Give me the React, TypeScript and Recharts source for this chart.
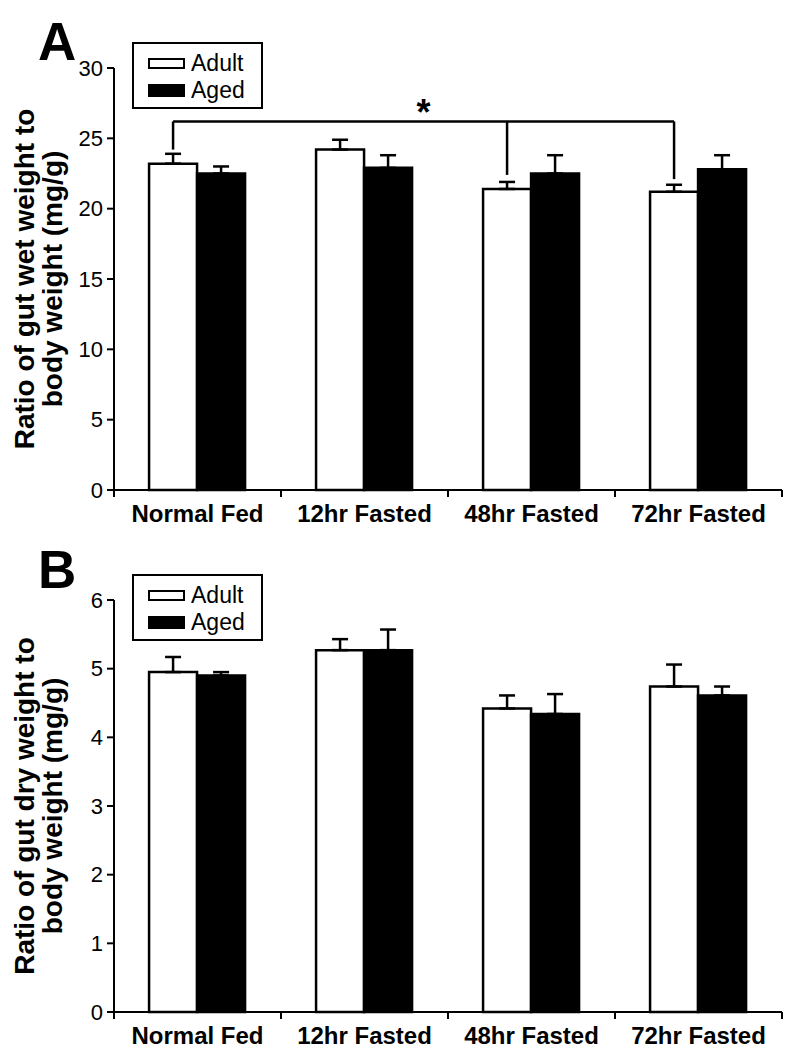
import React from "react"
import { BarChart, Bar, XAxis, YAxis, ErrorBar, Legend, Rectangle } from "recharts"

const categories = ["Normal Fed", "12hr Fasted", "48hr Fasted", "72hr Fasted"]
const seriesNames = ["Adult", "Aged"]
const seriesFills = ["#fff", "#000"]

// panel A: gut wet weight / body weight (mg/g)
const wetAdult = [23.2, 24.2, 21.4, 21.2]
const wetAdultErr = [0.7, 0.7, 0.5, 0.5]
const wetAged = [22.5, 22.9, 22.5, 22.8]
const wetAgedErr = [0.5, 0.9, 1.3, 1.0]
const wetTicks = [0, 5, 10, 15, 20, 25, 30]

// panel B: gut dry weight / body weight (mg/g)
const dryAdult = [4.95, 5.27, 4.42, 4.74]
const dryAdultErr = [0.22, 0.16, 0.19, 0.32]
const dryAged = [4.9, 5.27, 4.34, 4.61]
const dryAgedErr = [0.05, 0.3, 0.29, 0.13]
const dryTicks = [0, 1, 2, 3, 4, 5, 6]

// significance bracket over the adult bars in panel A
const bracketTop = 26.2
const bracketEnds: (number | null)[] = [24.2, null, 22.4, 22.1]
const bracketLabel = "*"

const FONT = '"Liberation Sans", Arial, sans-serif'
const W = 788
const LEFT = 74
const YAXIS_W = 40
const RIGHT = 6
const STEP = (W - LEFT - YAXIS_W - RIGHT) / categories.length

const build = (adult: number[], adultErr: number[], aged: number[], agedErr: number[]) =>
  categories.map((name, i) => ({
    name,
    adult: adult[i],
    adultErr: adultErr[i],
    aged: aged[i],
    agedErr: agedErr[i],
  }))

const wetData = build(wetAdult, wetAdultErr, wetAged, wetAgedErr)
const dryData = build(dryAdult, dryAdultErr, dryAged, dryAgedErr)

const XTick = (props: any) => {
  const { x, y, payload } = props
  const i = payload.index
  return (
    <g>
      <line x1={x - STEP / 2} x2={x - STEP / 2} y1={y} y2={y + 7} stroke="#000" strokeWidth={2} />
      {i === categories.length - 1 && (
        <line x1={x + STEP / 2} x2={x + STEP / 2} y1={y} y2={y + 7} stroke="#000" strokeWidth={2} />
      )}
      <text x={x} y={y + 32} textAnchor="middle" fontFamily={FONT} fontWeight="bold" fontSize={24} fill="#000">
        {payload.value}
      </text>
    </g>
  )
}

const YLabel = (props: any) => {
  const { viewBox, lines } = props
  const cy = viewBox.y + viewBox.height / 2
  const xs = [viewBox.x - 40, viewBox.x - 12]
  return (
    <g>
      {lines.map((t: string, i: number) => (
        <text
          key={t}
          x={xs[i]}
          y={cy}
          transform={`rotate(-90 ${xs[i]} ${cy})`}
          textAnchor="middle"
          fontFamily={FONT}
          fontWeight="bold"
          fontSize={28}
          fill="#000"
        >
          {t}
        </text>
      ))}
    </g>
  )
}

const LegendBox = () => (
  <div
    style={{
      width: 131,
      height: 67,
      border: "2px solid #000",
      boxSizing: "border-box",
      position: "relative",
      background: "#fff",
      fontFamily: FONT,
      fontSize: 23,
      color: "#000",
    }}
  >
    {seriesNames.map((n, i) => (
      <div
        key={n}
        style={{ position: "absolute", left: 14, top: 6 + i * 27, height: 26, display: "flex", alignItems: "center" }}
      >
        <div
          style={{
            width: 37,
            height: i === 0 ? 11 : 13,
            border: "2px solid #000",
            boxSizing: "border-box",
            background: seriesFills[i],
            marginRight: 6,
          }}
        />
        <span style={{ lineHeight: "26px" }}>{n}</span>
      </div>
    ))}
  </div>
)

const AdultBracketShape = (props: any) => {
  const { x, y, width, height, index, payload } = props
  const cx = x + width / 2
  const toPx = (v: number) => y + height - (v * height) / payload.adult
  const topPx = toPx(bracketTop)
  const end = bracketEnds[index]
  const idx = bracketEnds.map((v, i) => (v != null ? i : -1)).filter((i) => i >= 0)
  const first = idx[0]
  const last = idx[idx.length - 1]
  const span = (last - first) * STEP
  return (
    <g>
      <Rectangle x={x} y={y} width={width} height={height} fill="#fff" stroke="#000" strokeWidth={2.5} />
      {end != null && <line x1={cx} x2={cx} y1={topPx} y2={toPx(end)} stroke="#000" strokeWidth={2.5} />}
      {index === first && (
        <>
          <line x1={cx} x2={cx + span} y1={topPx} y2={topPx} stroke="#000" strokeWidth={2.5} />
          <text x={cx + span / 2} y={topPx + 4} textAnchor="middle" fontFamily={FONT} fontWeight="bold" fontSize={36} fill="#000">
            {bracketLabel}
          </text>
        </>
      )}
    </g>
  )
}

function Panel(props: {
  data: any[]
  ticks: number[]
  height: number
  marginTop: number
  xAxisH: number
  lines: string[]
  bracket?: boolean
}) {
  const { data, ticks, height, marginTop, xAxisH, lines, bracket } = props
  return (
    <BarChart
      width={W}
      height={height}
      data={data}
      margin={{ top: marginTop, right: RIGHT, left: LEFT, bottom: 0 }}
      barCategoryGap="21%"
      barGap={0}
    >
      <XAxis
        dataKey="name"
        height={xAxisH}
        axisLine={{ stroke: "#000", strokeWidth: 2 }}
        tickLine={false}
        tickSize={0}
        tickMargin={0}
        interval={0}
        tick={<XTick />}
      />
      <YAxis
        width={YAXIS_W}
        domain={[ticks[0], ticks[ticks.length - 1]]}
        ticks={ticks}
        interval={0}
        axisLine={{ stroke: "#000", strokeWidth: 2 }}
        tickLine={{ stroke: "#000", strokeWidth: 2 }}
        tickSize={7}
        tickMargin={4}
        tick={{ fill: "#000", fontSize: 22, fontFamily: FONT }}
        label={<YLabel lines={lines} />}
      />
      <Legend
        layout="vertical"
        align="center"
        verticalAlign="middle"
        wrapperStyle={{ left: 132, top: marginTop - 26, width: 131, height: 67 }}
        content={() => <LegendBox />}
      />
      <Bar
        dataKey="adult"
        name={seriesNames[0]}
        fill="#fff"
        stroke="#000"
        strokeWidth={2.5}
        isAnimationActive={false}
        shape={bracket ? (p: any) => <AdultBracketShape {...p} /> : undefined}
      >
        <ErrorBar dataKey={(d: any) => [0, d.adultErr]} width={8} stroke="#000" strokeWidth={2.5} direction="y" />
      </Bar>
      <Bar dataKey="aged" name={seriesNames[1]} fill="#000" stroke="#000" strokeWidth={2.5} isAnimationActive={false}>
        <ErrorBar dataKey={(d: any) => [0, d.agedErr]} width={8} stroke="#000" strokeWidth={2.5} direction="y" />
      </Bar>
    </BarChart>
  )
}

const letterStyle = (top: number): React.CSSProperties => ({
  position: "absolute",
  left: 38,
  top,
  fontFamily: FONT,
  fontWeight: "bold",
  fontSize: 53,
  lineHeight: "53px",
  color: "#000",
})

export default function App() {
  return (
    <div style={{ position: "absolute", left: 0, top: 0, width: W, height: 1050, background: "#fff" }}>
      <div style={{ position: "absolute", left: 0, top: 0 }}>
        <Panel
          data={wetData}
          ticks={wetTicks}
          height={530}
          marginTop={68}
          xAxisH={40}
          lines={["Ratio of gut wet weight to", "body weight (mg/g)"]}
          bracket
        />
      </div>
      <div style={{ position: "absolute", left: 0, top: 530 }}>
        <Panel
          data={dryData}
          ticks={dryTicks}
          height={520}
          marginTop={70}
          xAxisH={38}
          lines={["Ratio of gut dry weight to", "body weight (mg/g)"]}
        />
      </div>
      <div style={letterStyle(15)}>A</div>
      <div style={letterStyle(543)}>B</div>
    </div>
  )
}
